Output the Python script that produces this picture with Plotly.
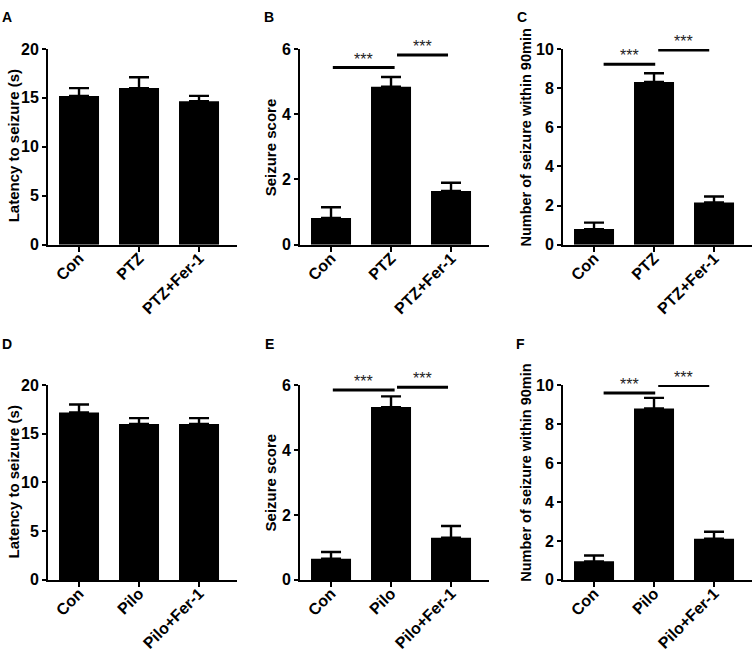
import plotly.graph_objects as go

W, H = 756, 660

# ---------------- data ----------------
cats_ptz = ["Con", "PTZ", "PTZ+Fer-1"]
cats_pilo = ["Con", "Pilo", "Pilo+Fer-1"]

latency_ptz = [15.2, 16.0, 14.65]
latency_ptz_err = [0.8, 1.1, 0.55]
score_ptz = [0.82, 4.84, 1.65]
score_ptz_err = [0.33, 0.30, 0.25]
number_ptz = [0.80, 8.31, 2.16]
number_ptz_err = [0.33, 0.45, 0.30]

latency_pilo = [17.18, 16.0, 16.0]
latency_pilo_err = [0.82, 0.6, 0.6]
score_pilo = [0.65, 5.32, 1.30]
score_pilo_err = [0.21, 0.33, 0.36]
number_pilo = [0.95, 8.80, 2.11]
number_pilo_err = [0.30, 0.54, 0.36]

ytitle_latency = "Latency to seizure (s)"
ytitle_score = "Seizure score"
ytitle_number = "Number of seizure within 90min"

# significance brackets: (x_start, x_end, height, label)
sig_B = [(0.03, 1.06, 5.43, "***"), (1.10, 1.95, 5.81, "***")]
sig_C = [(0.16, 1.02, 9.22, "***"), (1.07, 1.92, 9.95, "***")]
sig_E = [(0.03, 1.06, 5.85, "***"), (1.10, 1.95, 5.93, "***")]
sig_F = [(0.16, 1.02, 9.59, "***"), (1.07, 1.92, 9.97, "***")]

FONT = "Liberation Sans, Arial, Helvetica, sans-serif"

panels = [
    dict(letter="A", cats=cats_ptz, vals=latency_ptz, errs=latency_ptz_err, ymax=20, dtick=5,
         ytitle=ytitle_latency, tsize=15, sig=[], box=(48, 237, 42, 243), lpos=(7, 9), tpos=(13, 142)),
    dict(letter="B", cats=cats_ptz, vals=score_ptz, errs=score_ptz_err, ymax=6, dtick=2,
         ytitle=ytitle_score, tsize=15, sig=sig_B, box=(300, 489, 42, 243), lpos=(269, 9), tpos=(270, 143)),
    dict(letter="C", cats=cats_ptz, vals=number_ptz, errs=number_ptz_err, ymax=10, dtick=2,
         ytitle=ytitle_number, tsize=14.5, sig=sig_C, box=(563, 752, 42, 243), lpos=(522, 9), tpos=(526, 133)),
    dict(letter="D", cats=cats_pilo, vals=latency_pilo, errs=latency_pilo_err, ymax=20, dtick=5,
         ytitle=ytitle_latency, tsize=15, sig=[], box=(48, 237, 387, 587), lpos=(7, 345), tpos=(13, 487)),
    dict(letter="E", cats=cats_pilo, vals=score_pilo, errs=score_pilo_err, ymax=6, dtick=2,
         ytitle=ytitle_score, tsize=15, sig=sig_E, box=(300, 489, 387, 587), lpos=(269, 345), tpos=(270, 487)),
    dict(letter="F", cats=cats_pilo, vals=number_pilo, errs=number_pilo_err, ymax=10, dtick=2,
         ytitle=ytitle_number, tsize=14.5, sig=sig_F, box=(563, 752, 387, 587), lpos=(520, 345), tpos=(526, 477)),
]

fig = go.Figure()
layout = {}
shapes = []
annotations = []

for i, p in enumerate(panels, start=1):
    xa = "x" if i == 1 else f"x{i}"
    ya = "y" if i == 1 else f"y{i}"
    xkey = "xaxis" if i == 1 else f"xaxis{i}"
    ykey = "yaxis" if i == 1 else f"yaxis{i}"
    xl, xr, yt, yb = p["box"]
    xpos = list(range(len(p["cats"])))
    fig.add_trace(go.Bar(
        x=xpos, y=p["vals"], xaxis=xa, yaxis=ya,
        width=0.667, marker=dict(color="black", line=dict(width=0)),
        error_y=dict(type="data", symmetric=False, array=p["errs"], arrayminus=[0] * len(p["errs"]),
                     color="black", thickness=2.4, width=10),
        showlegend=False, hoverinfo="skip",
    ))
    layout[xkey] = dict(
        domain=[xl / W, xr / W], anchor=ya, range=[-0.517, 2.633],
        tickmode="array", tickvals=xpos, ticktext=[f"<b>{c}</b>" for c in p["cats"]], tickangle=-45,
        showline=True, linecolor="black", linewidth=2, ticks="outside", ticklen=5, tickwidth=2,
        tickcolor="black", showgrid=False, zeroline=False, ticklabelstandoff=-9,
        tickfont=dict(family=FONT, size=16, color="black"),
        fixedrange=True,
    )
    layout[ykey] = dict(
        domain=[1 - yb / H, 1 - yt / H], anchor=xa, range=[0, p["ymax"]],
        tickmode="linear", tick0=0, dtick=p["dtick"],
        showline=True, linecolor="black", linewidth=2, ticks="outside", ticklen=4, tickwidth=2,
        tickcolor="black", showgrid=False, zeroline=False,
        tickfont=dict(family=FONT, size=16, color="black", weight="bold"),
        fixedrange=True,
    )
    annotations.append(dict(
        text=f"<b>{p['letter']}</b>", xref="paper", yref="paper", x=p["lpos"][0] / W, y=1 - p["lpos"][1] / H,
        xanchor="center", yanchor="middle", showarrow=False,
        font=dict(family=FONT, size=14, color="black"),
    ))
    annotations.append(dict(
        text=f"<b>{p['ytitle']}</b>", xref="paper", yref="paper", x=p["tpos"][0] / W, y=1 - p["tpos"][1] / H,
        xanchor="center", yanchor="middle", showarrow=False, textangle=-90,
        font=dict(family=FONT, size=p["tsize"], color="black"),
    ))
    for x0, x1, yv, lab in p["sig"]:
        shapes.append(dict(type="line", xref=xa, yref=ya, x0=x0, x1=x1, y0=yv, y1=yv,
                           line=dict(color="black", width=3)))
        annotations.append(dict(
            text=lab, xref=xa, yref=ya, x=(x0 + x1) / 2, y=yv,
            xanchor="center", yanchor="bottom", yshift=-2, showarrow=False,
            font=dict(family=FONT, size=16, color="#222222"),
        ))

fig.update_layout(
    width=W, height=H, margin=dict(l=0, r=0, t=0, b=0),
    paper_bgcolor="white", plot_bgcolor="white",
    shapes=shapes, annotations=annotations, bargap=0.333,
    **layout,
)

fig.write_html("out.html", config={"displayModeBar": False},
               post_script="document.body.style.margin='0';document.body.style.padding='0';")
